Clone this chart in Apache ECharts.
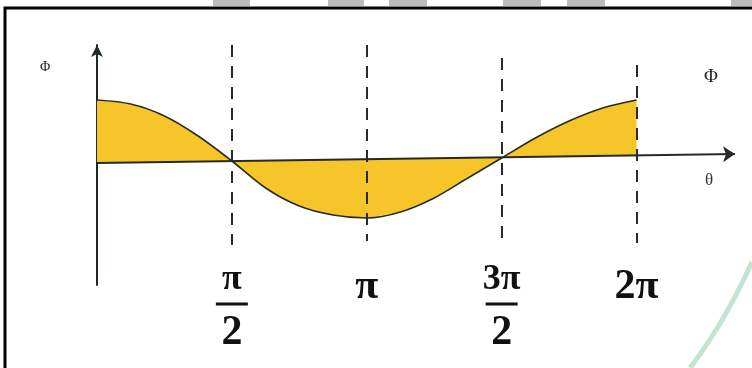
<!DOCTYPE html>
<html>
<head>
<meta charset="utf-8">
<script src="https://cdn.jsdelivr.net/npm/echarts@6/dist/echarts.min.js"></script>
<style>html,body{margin:0;padding:0;background:#fff}#c{width:752px;height:368px}</style>
</head>
<body>
<div id="c"></div>
<script>
// theta in units of pi/2
const tickValues = [0, 1, 2, 3, 4];
const tickLabels = ['', 'π/2', 'π', '3π/2', '2π'];
const theta = [0, 0.25, 0.5, 0.75, 1, 1.25, 1.5, 1.75, 2, 2.25, 2.5, 2.75, 3, 3.25, 3.5, 3.75, 4];
const phi   = [63, 59, 47, 27, 2, -25, -43, -52, -55, -49, -35, -15, 5, 25, 42, 55, 63];
// the drawn theta axis (slightly tilted in the scan): start, at 2pi, arrow tip
const axisStart = [0, 0];
const axisAt2Pi = [4, 8];
const axisTip = [4.73, 9];
// dashed guide lines
const guideX = [1, 2, 3, 4];
const guideTop = [118, 118, 105, 98];
const guideBottom = [-82, -78, -82, -80];

const chart = echarts.init(document.getElementById('c'), null, {renderer: 'canvas'});

const serif = '"Liberation Serif", "DejaVu Serif", serif';

function fmt(v) {
  const i = tickValues.indexOf(v);
  if (i < 0) return '';
  const s = tickLabels[i];
  if (s.indexOf('/') >= 0) {
    const num = s.split('/')[0], den = s.split('/')[1];
    return '{n|' + num + '}\n{bar| }\n{d|' + den + '}';
  }
  if (s === '') return '';
  return '{s|' + s + '}';
}

const topBlocks = [[213, 37], [328, 36], [389, 38], [503, 38], [567, 38], [731, 30]];

const option = {
  animation: false,
  backgroundColor: '#fff',
  grid: {left: 97, width: 638, top: 45, height: 240, containLabel: false},
  xAxis: {
    type: 'value', min: 0, max: 4.73, interval: 1,
    axisLine: {show: false, onZero: false},
    axisTick: {show: false},
    splitLine: {show: false},
    axisLabel: {
      margin: -22,
      formatter: fmt,
      showMaxLabel: false,
      rich: {
        n: {fontFamily: serif, fontWeight: 'bold', fontSize: 36, lineHeight: 34, color: '#111'},
        bar: {width: 32, height: 3, backgroundColor: '#111', lineHeight: 14, fontSize: 2},
        d: {fontFamily: serif, fontWeight: 'bold', fontSize: 42, lineHeight: 44, color: '#111'},
        s: {fontFamily: serif, fontWeight: 'bold', fontSize: 42, lineHeight: 48, color: '#111'}
      }
    }
  },
  yAxis: {
    type: 'value', min: -122, max: 118,
    axisLine: {show: true, onZero: false, symbol: ['none', 'arrow'], symbolSize: [9, 12], lineStyle: {color: '#1e2a22', width: 2}},
    axisTick: {show: false},
    axisLabel: {show: false},
    splitLine: {show: false}
  },
  graphic: [
    {type: 'rect', shape: {x: 5, y: 8, width: 800, height: 400}, style: {fill: 'none', stroke: '#000', lineWidth: 3}, z: 100},
    ...topBlocks.map(b => ({type: 'rect', shape: {x: b[0], y: 0, width: b[1], height: 6}, style: {fill: '#bdbdbd'}, z: 99})),
    {type: 'bezierCurve', shape: {x1: 752, y1: 262, cpx1: 735, cpy1: 300, cpx2: 715, cpy2: 335, x2: 690, y2: 368}, style: {stroke: 'rgba(120,195,150,0.45)', lineWidth: 5, fill: 'none'}, z: 0},
    {type: 'text', left: 40, top: 60, style: {text: 'Φ', font: '14px ' + serif, fill: '#222'}},
    {type: 'text', left: 704, top: 68, style: {text: 'Φ', font: '19px ' + serif, fill: '#222'}},
    {type: 'text', left: 705, top: 172, style: {text: 'θ', font: '17px ' + serif, fill: '#333'}}
  ],
  series: [
    {
      type: 'custom',
      coordinateSystem: 'cartesian2d',
      data: [0],
      silent: true,
      z: 1,
      renderItem: function (params, api) {
        const pts = [];
        for (let i = 0; i < theta.length; i++) pts.push(api.coord([theta[i], phi[i]]));
        pts.push(api.coord(axisAt2Pi));
        pts.push(api.coord(axisStart));
        return {type: 'polygon', shape: {points: pts}, style: {fill: '#F5C52A'}};
      }
    },
    {
      type: 'line',
      data: theta.map((t, i) => [t, phi[i]]),
      smooth: 0.3,
      symbol: 'none',
      z: 3,
      lineStyle: {color: '#2b2b14', width: 1.6},
      markLine: {
        silent: true,
        symbol: ['none', 'none'],
        label: {show: false},
        lineStyle: {color: '#2a2a2a', width: 2, type: [12, 9]},
        data: guideX.map((x, i) => [{coord: [x, guideTop[i]]}, {coord: [x, guideBottom[i]]}])
      }
    },
    {
      type: 'line',
      data: [],
      z: 4,
      markLine: {
        silent: true,
        symbol: ['none', 'arrow'],
        symbolSize: 12,
        label: {show: false},
        lineStyle: {color: '#252a25', width: 2, type: 'solid'},
        data: [[{coord: axisStart}, {coord: axisTip}]]
      }
    }
  ]
};
chart.setOption(option);
</script>
</body>
</html>
